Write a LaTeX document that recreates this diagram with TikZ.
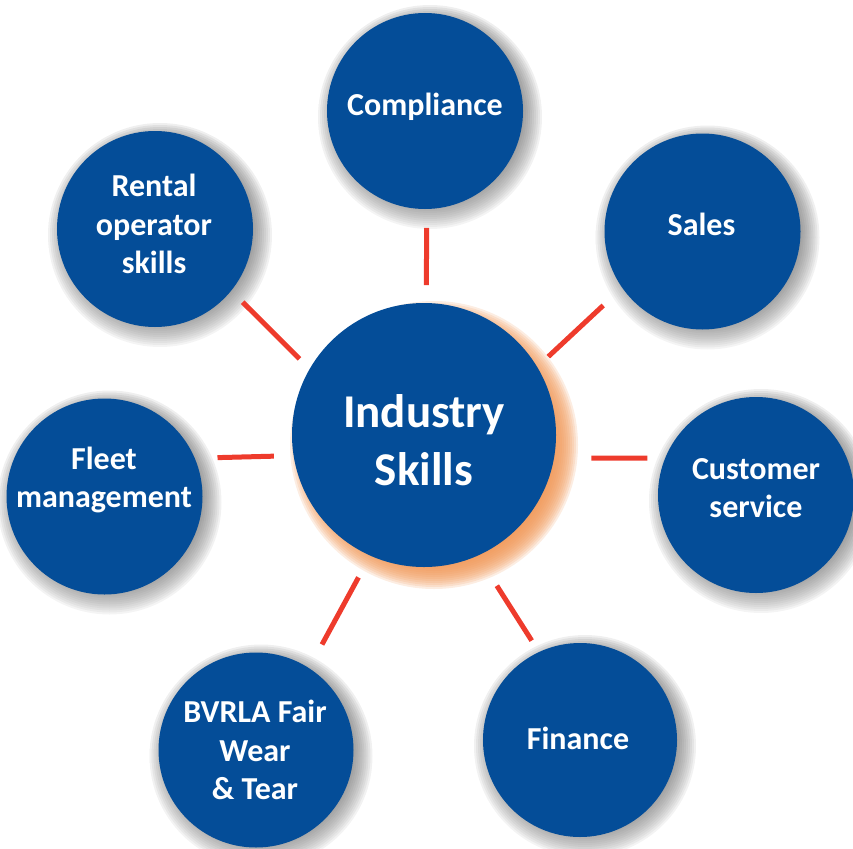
\documentclass[tikz,border=0pt]{standalone}
\usepackage{fontspec}
\setmainfont{Carlito}
\usetikzlibrary{calc}
\pgfdeclarelayer{background}
\pgfsetlayers{background,main}
\definecolor{bblue}{RGB}{4,77,152}
\definecolor{lred}{RGB}{238,59,44}
\definecolor{glow}{RGB}{240,150,85}
\definecolor{shade}{RGB}{150,165,215}
\begin{document}
\begin{tikzpicture}[x=1pt,y=-1pt,
  bub/.style={circle, fill=bblue, inner sep=0pt, outer sep=0pt, minimum size=196pt},
  hub/.style={circle, fill=bblue, inner sep=0pt, outer sep=0pt, minimum size=264pt},
  btext/.style={text=white, font=\bfseries\fontsize{32}{38.7}\selectfont, align=center, inner sep=0pt},
  htext/.style={text=white, font=\bfseries\fontsize{47}{58}\selectfont, align=center, inner sep=0pt},
  conn/.style={draw=lred, line width=5pt}]
\useasboundingbox (0,0) rectangle (853,848);

% circles
\node[hub] (c) at (424,435) {};
\node[bub] (comp) at (425,111) {};
\node[bub] (sales) at (702.5,231.5) {};
\node[bub] (cust) at (756,495) {};
\node[bub, minimum size=194pt] (fin) at (580,740) {};
\node[bub, minimum size=195pt] (bv) at (256,750) {};
\node[bub] (fleet) at (104.5,496.5) {};
\node[bub] (rent) at (155,229) {};

% texts
\node[htext] (c-t) at (424,440) {Industry\\Skills};
\node[btext] (comp-t) at (425,107) {Compliance};
\node[btext] (sales-t) at (701.5,224) {Sales};
\node[btext] (cust-t) at (756,488) {Customer\\service};
\node[btext] (fin-t) at (578,738) {Finance};
\node[btext] (bv-t) at (255,750) {BVRLA Fair\\Wear\\\& Tear};
\node[btext] (fleet-t) at (104,480) {Fleet\\management};
\node[btext] (rent-t) at (154,224) {Rental\\operator\\skills};

% connectors
\draw[conn, shorten <=18pt, shorten >=19pt] (c.89.1) -- (comp.-89.4);
\draw[conn, shorten <=14.3pt, shorten >=16.3pt] (c.150.5) -- (rent.-39.6);
\draw[conn, shorten <=15.2pt, shorten >=26pt] (c.31.2) -- (sales.-145.9);
\draw[conn, shorten <=37.3pt, shorten >=17.7pt] (c.-10.7) -- (cust.158.8);
\draw[conn, shorten <=35.7pt, shorten >=13.6pt] (c.-66.4) -- (fin.115.5);
\draw[conn, shorten <=24.8pt, shorten >=27pt] (c.-114.2) -- (bv.57.8);
\draw[conn, shorten <=19.8pt, shorten >=22.8pt] (c.189.6) -- (fleet.23.8);

% shadows and glow
\begin{pgfonlayer}{background}
\foreach \n/\r in {comp/98, sales/98, cust/98, fin/97, bv/97.5, fleet/98, rent/98} {
  \foreach \k in {0,...,13}
    \fill[shade, opacity=0.045] ([shift={(5,6)}]\n.center) circle[radius={(\r+14-2*\k)*1pt}];
}
\foreach \k in {0,...,12}
  \fill[glow, opacity=0.17] ([shift={(10,10)}]c.center) circle[radius={(132+12-2*\k)*1pt}];
\end{pgfonlayer}
\end{tikzpicture}
\end{document}
